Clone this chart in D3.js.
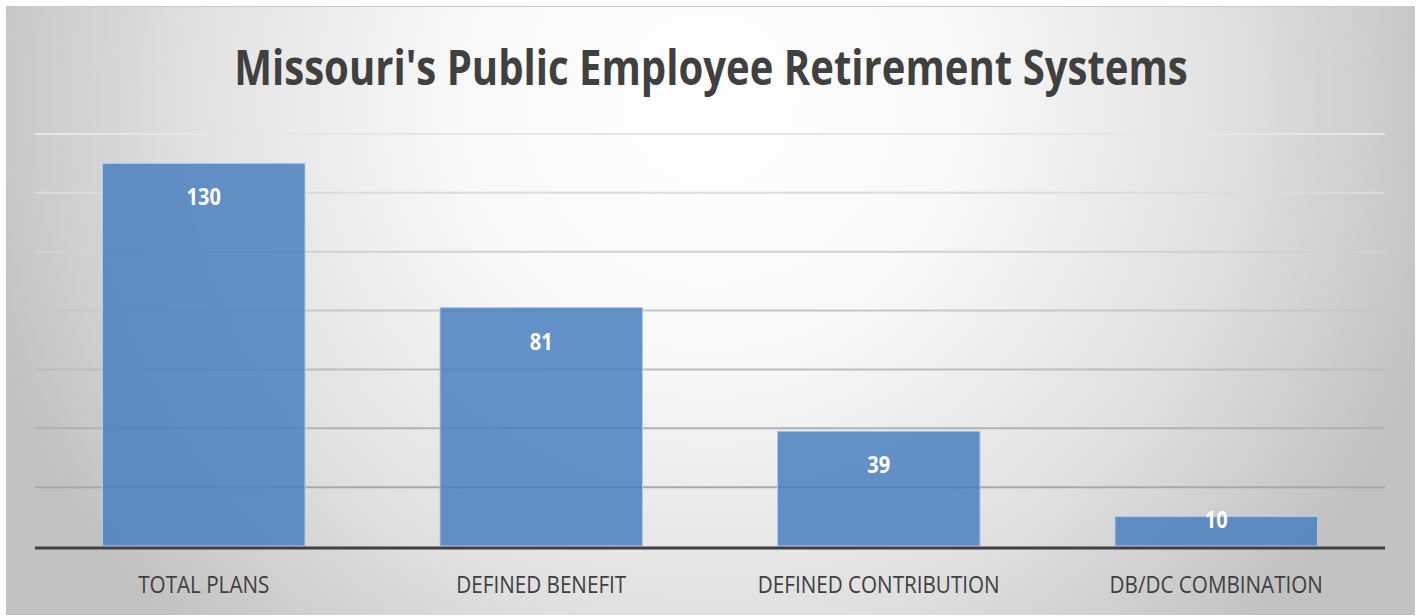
<!DOCTYPE html>
<html>
<head>
<meta charset="utf-8">
<script src="https://cdn.jsdelivr.net/npm/d3@7"></script>
<style>
  html, body { margin: 0; padding: 0; background: #fff; }
  svg { display: block; }
</style>
</head>
<body>
<div id="chart"></div>
<script>
const title = "Missouri's Public Employee Retirement Systems";
const categories = ["TOTAL PLANS", "DEFINED BENEFIT", "DEFINED CONTRIBUTION", "DB/DC COMBINATION"];
const values = [130, 81, 39, 10];
const yTicks = [0, 20, 40, 60, 80, 100, 120, 140];

const width = 1419;
const height = 616;
const margin = { top: 134, right: 34, bottom: 70, left: 35 };
const font = "'Open Sans', 'Liberation Sans', sans-serif";
const squeeze = 0.835; // the original font is narrower

const svg = d3.select("#chart").append("svg")
  .attr("width", width)
  .attr("height", height);

const defs = svg.append("defs");
const bg = defs.append("radialGradient")
  .attr("id", "bg")
  .attr("gradientUnits", "userSpaceOnUse")
  .attr("cx", 710).attr("cy", 100).attr("r", 750);
bg.append("stop").attr("offset", 0).attr("stop-color", "#ffffff");
bg.append("stop").attr("offset", 0.35).attr("stop-color", "#f8f8f8");
bg.append("stop").attr("offset", 0.7).attr("stop-color", "#e0e0e0");
bg.append("stop").attr("offset", 1).attr("stop-color", "#c2c2c2");

// chart area with a thin grey top edge
svg.append("rect")
  .attr("x", 6).attr("y", 6)
  .attr("width", 1409).attr("height", 609)
  .attr("fill", "url(#bg)");
svg.append("line")
  .attr("x1", 6).attr("x2", 1415)
  .attr("y1", 6.5).attr("y2", 6.5)
  .attr("stroke", "#c8c8c8");

const x = d3.scaleBand()
  .domain(categories)
  .range([margin.left, width - margin.right])
  .paddingInner(0.4)
  .paddingOuter(0.2);

const y = d3.scaleLinear()
  .domain([0, 140])
  .range([546, margin.top]);

const gridColor = d3.scaleLinear()
  .domain([20, 140])
  .range(["#a8a8a8", "#e6e6e6"]);

svg.append("g")
  .selectAll("line")
  .data(yTicks.filter(d => d > 0))
  .join("line")
  .attr("x1", margin.left)
  .attr("x2", width - margin.right)
  .attr("y1", d => y(d))
  .attr("y2", d => y(d))
  .attr("stroke", d => gridColor(d))
  .attr("stroke-width", 2);

svg.append("g")
  .selectAll("rect")
  .data(values)
  .join("rect")
  .attr("x", (d, i) => x(categories[i]))
  .attr("y", d => y(d))
  .attr("width", x.bandwidth())
  .attr("height", d => y(0) - y(d))
  .attr("fill", "#4a7fbf")
  .attr("fill-opacity", 0.85)
  .attr("stroke", "#b0c8e8")
  .attr("stroke-width", 1);

function condense(sel, k = squeeze) {
  sel.each(function () {
    const w = this.getComputedTextLength();
    d3.select(this)
      .attr("textLength", w * k)
      .attr("lengthAdjust", "spacingAndGlyphs");
  });
}

// value labels, inside end
svg.append("g")
  .selectAll("text")
  .data(values)
  .join("text")
  .attr("x", (d, i) => x(categories[i]) + x.bandwidth() / 2)
  .attr("y", d => (y(0) - y(d) > 60 ? y(d) + 33 : y(d) + 2) + 9)
  .attr("text-anchor", "middle")
  .attr("font-family", font)
  .attr("font-weight", "bold")
  .attr("font-size", 24)
  .attr("fill", "#ffffff")
  .text(d => d)
  .call(condense);

// baseline
svg.append("line")
  .attr("x1", margin.left)
  .attr("x2", width - margin.right)
  .attr("y1", 548)
  .attr("y2", 548)
  .attr("stroke", "#404040")
  .attr("stroke-width", 3);

const xAxis = svg.append("g")
  .attr("transform", "translate(0,548)")
  .call(d3.axisBottom(x).tickSize(0).tickPadding(0));
xAxis.select(".domain").remove();
xAxis.selectAll("text")
  .attr("y", 45)
  .attr("dy", 0)
  .attr("font-family", font)
  .attr("font-size", 24)
  .attr("fill", "#404040")
  .call(condense, 0.86);

svg.append("text")
  .attr("x", 711)
  .attr("y", 85)
  .attr("text-anchor", "middle")
  .attr("font-family", font)
  .attr("font-weight", "bold")
  .attr("font-size", 48)
  .attr("fill", "#404040")
  .text(title)
  .call(condense);
</script>
</body>
</html>
